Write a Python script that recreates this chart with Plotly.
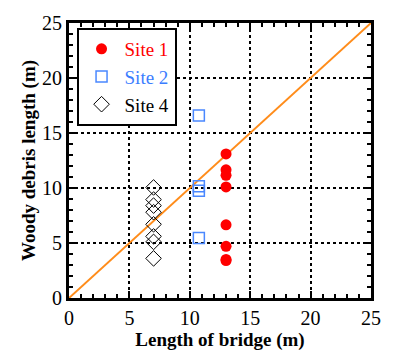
import plotly.graph_objects as go

site1_x = [13, 13, 13, 13, 13, 13, 13, 13]
site1_y = [13.1, 11.65, 11.15, 10.1, 6.65, 4.7, 3.5, 3.4]
site2_x = [10.75, 10.75, 10.75, 10.75]
site2_y = [16.6, 10.15, 9.75, 5.45]
site4_x = [7, 7, 7, 7, 7, 7, 7, 7]
site4_y = [10.05, 8.95, 8.4, 7.8, 6.7, 5.6, 5.1, 3.6]
line_x = [0, 25]
line_y = [0, 25]
ticks = [0, 5, 10, 15, 20, 25]

FONT = "Liberation Serif"

fig = go.Figure()
fig.add_trace(go.Scatter(x=line_x, y=line_y, mode="lines",
                         line=dict(color="#ff8c1a", width=2), showlegend=False))
fig.add_trace(go.Scatter(x=site1_x, y=site1_y, mode="markers",
                         name="<span style='color:#ff0000'>Site 1</span>",
                         marker=dict(symbol="circle", size=11, color="#ff0000",
                                     line=dict(width=0))))
fig.add_trace(go.Scatter(x=site2_x, y=site2_y, mode="markers",
                         name="<span style='color:#3b7dff'>Site 2</span>",
                         marker=dict(symbol="square-open", size=11, color="#4a88ff",
                                     line=dict(width=1.5))))
fig.add_trace(go.Scatter(x=site4_x, y=site4_y, mode="markers",
                         name="<span style='color:#000000'>Site 4</span>",
                         marker=dict(symbol="diamond-open", size=12, color="#000000",
                                     line=dict(width=1))))

axis_common = dict(
    range=[0, 25], tickvals=ticks, ticktext=[str(t) for t in ticks],
    showline=True, linecolor="black", linewidth=3, mirror="allticks",
    ticks="inside", ticklen=7, tickwidth=2, tickcolor="black",
    showgrid=True, gridcolor="black", gridwidth=2, griddash="3px,3px",
    zeroline=False,
    tickfont=dict(family=FONT, size=20, color="black"),
    minor=dict(ticks="inside", dtick=1, ticklen=4, tickwidth=1.5,
               tickcolor="black", showgrid=False),
)

fig.update_layout(
    width=393, height=356,
    margin=dict(l=69, r=12, t=22, b=53),
    paper_bgcolor="white", plot_bgcolor="white",
    font=dict(family=FONT, color="black", size=18),
    xaxis=dict(**axis_common,
               title=dict(text="<b>Length of bridge (m)</b>",
                          font=dict(family=FONT, size=19), standoff=2)),
    yaxis=dict(**axis_common,
               title=dict(text="<b>Woody debris length (m)</b>",
                          font=dict(family=FONT, size=19), standoff=2)),
    legend=dict(x=0.025, y=0.982, xanchor="left", yanchor="top",
                bgcolor="white", bordercolor="black", borderwidth=2,
                font=dict(family=FONT, size=19), itemwidth=36,
                tracegroupgap=0),
    showlegend=True,
)

fig.write_html("out.html")
